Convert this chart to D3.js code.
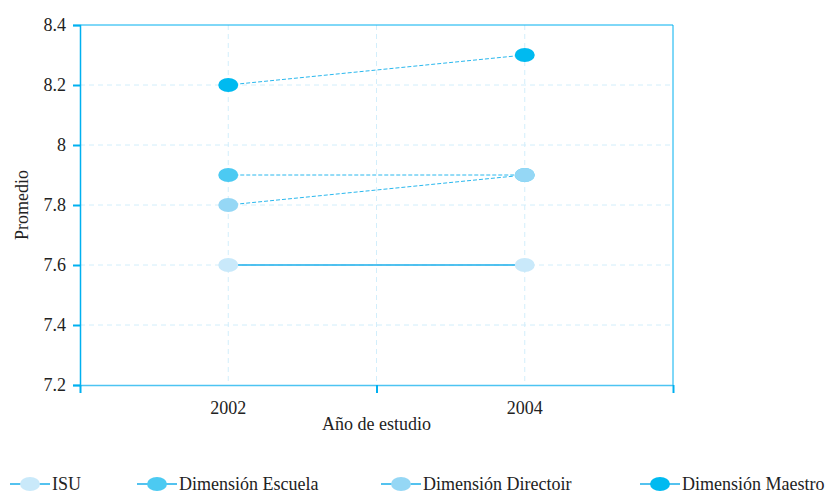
<!DOCTYPE html>
<html><head><meta charset="utf-8">
<script src="https://cdn.jsdelivr.net/npm/d3@7"></script>
<style>body{margin:0;background:#fff}svg{display:block}text{font-family:"Liberation Serif","DejaVu Serif",serif !important;fill:#222}</style>
</head><body>
<script>
const years = [2002, 2004];
const seriesNames = ["ISU", "Dimensión Escuela", "Dimensión Directoir", "Dimensión Maestro"];
const isu = [7.6, 7.6];
const escuela = [7.9, 7.9];
const directoir = [7.8, 7.9];
const maestro = [8.2, 8.3];
const yTicks = [7.2, 7.4, 7.6, 7.8, 8, 8.2, 8.4];
const xLabelTicks = [2002, 2004];
const xMarkTicks = [2001, 2003, 2005];
const colors = ["#c9e9fa", "#4ccaf2", "#95d7f5", "#00baf0"];
const dashed = [false, true, true, true];

const series = [isu, escuela, directoir, maestro].map((v,i)=>({name:seriesNames[i], values:v, color:colors[i], dashed:dashed[i]}));

const W=833,H=494, L=80,R=673,T=25,B=385;
const FS=18;
const svg=d3.select("body").append("svg").attr("width",W).attr("height",H);
const x=d3.scaleLinear().domain([2001,2005]).range([L,R]);
const y=d3.scaleLinear().domain([7.2,8.4]).range([B,T]);
const axisCol="#00b0f0";

// grid
svg.append("g").selectAll("line").data(yTicks.slice(1,-1)).join("line")
 .attr("x1",L).attr("x2",R).attr("y1",d=>y(d)).attr("y2",d=>y(d))
 .attr("stroke","#d2eefb").attr("stroke-dasharray","5,4");
svg.append("g").selectAll("line").data([2002,2003,2004]).join("line")
 .attr("x1",d=>x(d)).attr("x2",d=>x(d)).attr("y1",T).attr("y2",B)
 .attr("stroke","#d2eefb").attr("stroke-dasharray","5,4");
// top & right borders
svg.append("line").attr("x1",L).attr("x2",R).attr("y1",T).attr("y2",T).attr("stroke",axisCol).attr("stroke-width",1);
svg.append("line").attr("x1",R).attr("x2",R).attr("y1",T).attr("y2",B).attr("stroke",axisCol).attr("stroke-width",1);

// y axis
const ya=svg.append("g").attr("transform",`translate(${L},0)`)
 .call(d3.axisLeft(y).tickValues(yTicks).tickFormat(d=>d3.format("")(d)).tickSize(7).tickPadding(7));
ya.attr("font-family",null).attr("font-size",null);
ya.select(".domain").attr("stroke",axisCol).attr("stroke-width",1.5);
ya.selectAll(".tick line").attr("stroke",axisCol).attr("stroke-width",2);
ya.selectAll("text").attr("font-size",FS).attr("fill","#222");

// x axis
const xa=svg.append("g").attr("transform",`translate(0,${B})`)
 .call(d3.axisBottom(x).tickValues(xMarkTicks).tickFormat("").tickSize(8).tickSizeOuter(0));
xa.select(".domain").attr("stroke","#4cc4f2").attr("stroke-width",1.5);
xa.selectAll(".tick line").attr("stroke",axisCol).attr("stroke-width",2);
svg.append("g").selectAll("text").data(xLabelTicks).join("text")
 .attr("x",d=>x(d)).attr("y",B+29).attr("text-anchor","middle").attr("font-size",FS).text(d=>d);

svg.append("text").attr("x",(L+R)/2).attr("y",430).attr("text-anchor","middle").attr("font-size",FS).text("Año de estudio");
svg.append("text").attr("transform",`translate(28,${(T+B)/2}) rotate(-90)`).attr("text-anchor","middle").attr("font-size",FS).text("Promedio");

// lines
const line=d3.line().x((d,i)=>x(years[i])).y(d=>y(d));
svg.append("g").selectAll("path").data(series).join("path")
 .attr("d",d=>line(d.values)).attr("fill","none")
 .attr("stroke",d=>d.dashed?"#2ab8ee":"#1aaeea").attr("stroke-width",d=>d.dashed?1:1.5)
 .attr("stroke-dasharray",d=>d.dashed?"4,2":null);
// points
series.forEach(s=>{
 svg.append("g").selectAll("ellipse").data(s.values).join("ellipse")
  .attr("cx",(d,i)=>x(years[i])).attr("cy",d=>y(d)).attr("rx",10).attr("ry",7).attr("fill",s.color);
});

// legend
const legX=[10,137,381,640];
const lg=svg.append("g").selectAll("g").data(series).join("g").attr("transform",(d,i)=>`translate(${legX[i]},484)`);
lg.append("line").attr("x1",0).attr("x2",40).attr("stroke","#1aaeea").attr("stroke-width",1.5);
lg.append("ellipse").attr("cx",20).attr("rx",10).attr("ry",7).attr("fill",d=>d.color);
lg.append("text").attr("x",42).attr("y",6).attr("font-size",FS).text(d=>d.name);
</script>
</body></html>
